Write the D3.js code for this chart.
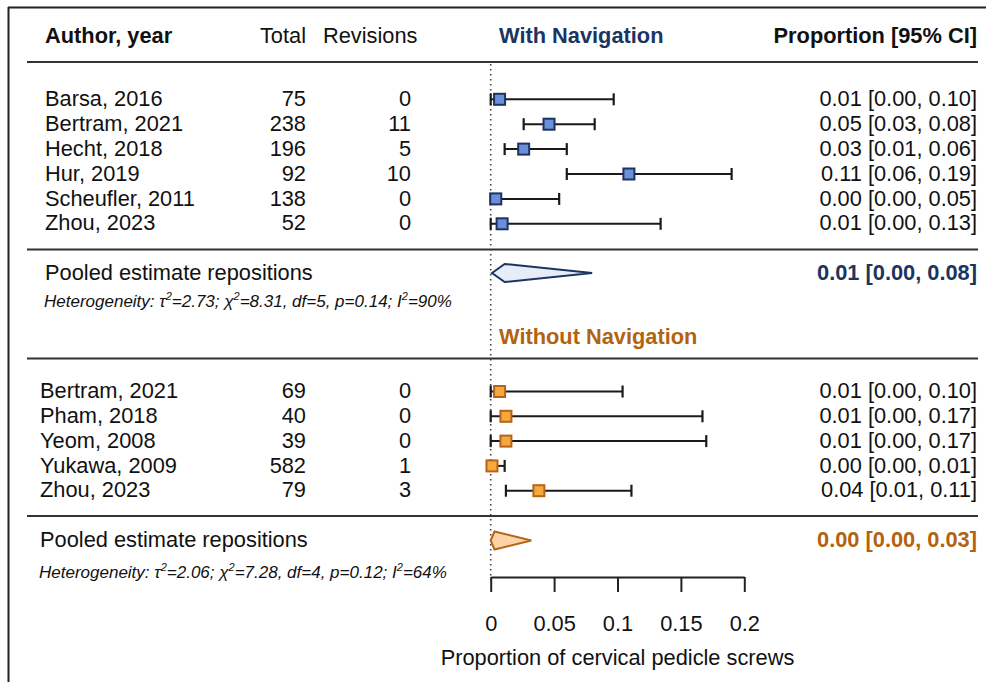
<!DOCTYPE html>
<html>
<head>
<meta charset="utf-8">
<script src="https://cdn.jsdelivr.net/npm/d3@7"></script>
<style>
  html, body { margin: 0; padding: 0; background: #fff; }
  svg { display: block; font-family: "Liberation Sans", Arial, Helvetica, sans-serif; }
</style>
</head>
<body>
<svg id="chart" width="986" height="682"></svg>
<script>
// Studies with navigation
const navAuthors   = ["Barsa, 2016", "Bertram, 2021", "Hecht, 2018", "Hur, 2019", "Scheufler, 2011", "Zhou, 2023"];
const navTotals    = [75, 238, 196, 92, 138, 52];
const navRevisions = [0, 11, 5, 10, 0, 0];
const navEst       = [0.007, 0.046, 0.026, 0.109, 0.004, 0.009];
const navLower     = [0.000, 0.026, 0.011, 0.060, 0.000, 0.000];
const navUpper     = [0.097, 0.082, 0.060, 0.190, 0.054, 0.134];
const navPooled    = [0.011, 0.001, 0.080];   // estimate, lower, upper

// Studies without navigation
const freeAuthors   = ["Bertram, 2021", "Pham, 2018", "Yeom, 2008", "Yukawa, 2009", "Zhou, 2023"];
const freeTotals    = [69, 40, 39, 582, 79];
const freeRevisions = [0, 0, 0, 1, 3];
const freeEst       = [0.007, 0.012, 0.012, 0.001, 0.038];
const freeLower     = [0.000, 0.000, 0.000, 0.000, 0.012];
const freeUpper     = [0.104, 0.167, 0.170, 0.011, 0.111];
const freePooled    = [0.003, 0.000, 0.032];

// Heterogeneity statistics: [with navigation, without navigation]
const hetTau2 = [2.73, 2.06];
const hetChi2 = [8.31, 7.28];
const hetDf   = [5, 4];
const hetP    = [0.14, 0.12];
const hetI2   = [90, 64];

const axisTicks = [0, 0.05, 0.1, 0.15, 0.2];

const C = {
  ink: "#111",
  rule: "#333",
  navy: "#1c3461",
  navyFill: "#6b8fd8",
  navyDiamond: "#e6edf9",
  orange: "#b3630f",
  orangeStroke: "#b4651a",
  orangeFill: "#f4a83e",
  orangeDiamond: "#fbd3a6"
};

const svg = d3.select("#chart");
const FS = 21.8;

const x = d3.scaleLinear().domain([0, 0.2]).range([490.7, 744.3]);
const fmt = v => v.toFixed(2);
const ciText = (e, l, u) => `${fmt(e)} [${fmt(l)}, ${fmt(u)}]`;

// Frame: top and left edges
svg.append("line").attr("x1", 8).attr("x2", 986).attr("y1", 7.5).attr("y2", 7.5)
  .attr("stroke", "#222").attr("stroke-width", 2);
svg.append("line").attr("x1", 8.5).attr("x2", 8.5).attr("y1", 7).attr("y2", 682)
  .attr("stroke", "#222").attr("stroke-width", 2);

function text(xp, yp, str, opts = {}) {
  return svg.append("text")
    .attr("x", xp).attr("y", yp).attr("dy", "0.35em")
    .attr("font-size", opts.size || FS)
    .attr("font-weight", opts.bold ? "bold" : null)
    .attr("font-style", opts.italic ? "italic" : null)
    .attr("text-anchor", opts.anchor || "start")
    .attr("fill", opts.color || C.ink)
    .text(str);
}

function rule(yp, x1 = 27, x2 = 978) {
  svg.append("line").attr("x1", x1).attr("x2", x2).attr("y1", yp).attr("y2", yp)
    .attr("stroke", C.rule).attr("stroke-width", 2);
}

// Header
text(45, 35, "Author, year", { bold: true });
text(306, 35, "Total", { anchor: "end" });
text(323, 35, "Revisions");
text(499, 35, "With Navigation", { bold: true, color: C.navy });
text(977, 35, "Proportion [95% CI]", { bold: true, anchor: "end" });
rule(62);

// Reference line at zero
svg.append("line").attr("x1", x(0)).attr("x2", x(0)).attr("y1", 64).attr("y2", 580)
  .attr("stroke", "#444").attr("stroke-width", 1.6).attr("stroke-dasharray", "1.6,3.4");

function studies(cfg) {
  const n = cfg.authors.length;
  const ys = d3.range(n).map(i => cfg.top + i * cfg.step);
  const g = svg.append("g");
  // text columns
  g.selectAll(".author").data(cfg.authors).join("text")
    .attr("x", cfg.authorX).attr("y", (d, i) => ys[i] - 1).attr("dy", "0.35em")
    .attr("font-size", FS).attr("fill", C.ink).text(d => d);
  g.selectAll(".total").data(cfg.totals).join("text")
    .attr("x", 306).attr("y", (d, i) => ys[i] - 1).attr("dy", "0.35em")
    .attr("text-anchor", "end").attr("font-size", FS).attr("fill", C.ink).text(d => d);
  g.selectAll(".rev").data(cfg.revisions).join("text")
    .attr("x", 411).attr("y", (d, i) => ys[i] - 1).attr("dy", "0.35em")
    .attr("text-anchor", "end").attr("font-size", FS).attr("fill", C.ink).text(d => d);
  g.selectAll(".ci").data(cfg.est).join("text")
    .attr("x", 977).attr("y", (d, i) => ys[i] - 1).attr("dy", "0.35em")
    .attr("text-anchor", "end").attr("font-size", FS).attr("fill", C.ink)
    .text((d, i) => ciText(d, cfg.lower[i], cfg.upper[i]));
  // whiskers
  const w = g.selectAll(".whisker").data(cfg.est).join("g");
  w.append("line")
    .attr("x1", (d, i) => x(cfg.lower[i])).attr("x2", (d, i) => x(cfg.upper[i]))
    .attr("y1", (d, i) => ys[i]).attr("y2", (d, i) => ys[i])
    .attr("stroke", "#1a1a1a").attr("stroke-width", 2);
  ["lower", "upper"].forEach(k => {
    w.append("line")
      .attr("x1", (d, i) => x(cfg[k][i])).attr("x2", (d, i) => x(cfg[k][i]))
      .attr("y1", (d, i) => ys[i] - 6).attr("y2", (d, i) => ys[i] + 6)
      .attr("stroke", "#1a1a1a").attr("stroke-width", 2.2);
  });
  // point estimates
  const s = 11;
  g.selectAll(".pt").data(cfg.est).join("rect")
    .attr("x", d => x(d) - s / 2).attr("y", (d, i) => ys[i] - s / 2)
    .attr("width", s).attr("height", s)
    .attr("fill", cfg.fill).attr("stroke", cfg.stroke).attr("stroke-width", 2);
}

function pooled(cfg) {
  text(cfg.labelX, cfg.y - 1, "Pooled estimate repositions");
  const [e, l, u] = cfg.values;
  const h = 9;
  const pts = [[x(l), cfg.y], [x(e), cfg.y - h], [x(u), cfg.y], [x(e), cfg.y + h]];
  svg.append("path").attr("d", d3.line()(pts) + "Z")
    .attr("fill", cfg.fill).attr("stroke", cfg.stroke).attr("stroke-width", 2)
    .attr("stroke-linejoin", "miter");
  text(977, cfg.y - 1, ciText(e, l, u), { bold: true, anchor: "end", color: cfg.color });

  // heterogeneity line with superscripts
  const k = cfg.k;
  const t = svg.append("text").attr("x", cfg.labelX - 1).attr("y", cfg.hetY).attr("dy", "0.35em")
    .attr("font-size", 17).attr("font-style", "italic").attr("fill", C.ink);
  const sup = str => t.append("tspan").attr("dy", -7).attr("font-size", 11).text(str);
  const base = str => t.append("tspan").attr("dy", 7).text(str);
  t.append("tspan").text("Heterogeneity: \u03C4");
  sup("2"); base(`=${hetTau2[k].toFixed(2)}; \u03C7`);
  sup("2"); base(`=${hetChi2[k].toFixed(2)}, df=${hetDf[k]}, p=${hetP[k].toFixed(2)}; I`);
  sup("2"); base(`=${hetI2[k]}%`);
}

// With navigation
studies({
  authors: navAuthors, totals: navTotals, revisions: navRevisions,
  est: navEst, lower: navLower, upper: navUpper,
  top: 99.3, step: 24.9, authorX: 45, fill: C.navyFill, stroke: C.navy
});
rule(249.5);
pooled({ values: navPooled, y: 273, labelX: 45, hetY: 301, k: 0,
  fill: C.navyDiamond, stroke: C.navy, color: C.navy });

// Without navigation
text(499, 336, "Without Navigation", { bold: true, color: C.orange });
rule(358.5);
studies({
  authors: freeAuthors, totals: freeTotals, revisions: freeRevisions,
  est: freeEst, lower: freeLower, upper: freeUpper,
  top: 391.5, step: 24.8, authorX: 40, fill: C.orangeFill, stroke: C.orangeStroke
});
rule(516);
pooled({ values: freePooled, y: 540.5, labelX: 40, hetY: 572, k: 1,
  fill: C.orangeDiamond, stroke: C.orangeStroke, color: C.orange });

// Axis
const axis = d3.axisBottom(x).tickValues(axisTicks).tickSize(15).tickSizeOuter(0)
  .tickPadding(24).tickFormat(d3.format(""));
const ax = svg.append("g").attr("transform", "translate(0,577)").call(axis);
ax.select(".domain").attr("stroke", "#222").attr("stroke-width", 2);
ax.selectAll(".tick line").attr("stroke", "#222").attr("stroke-width", 2);
ax.selectAll(".tick text").attr("font-size", FS).attr("fill", C.ink)
  .attr("font-family", "'Liberation Sans', Arial, sans-serif");

text(x(0.1), 657, "Proportion of cervical pedicle screws", { anchor: "middle" });
</script>
</body>
</html>
